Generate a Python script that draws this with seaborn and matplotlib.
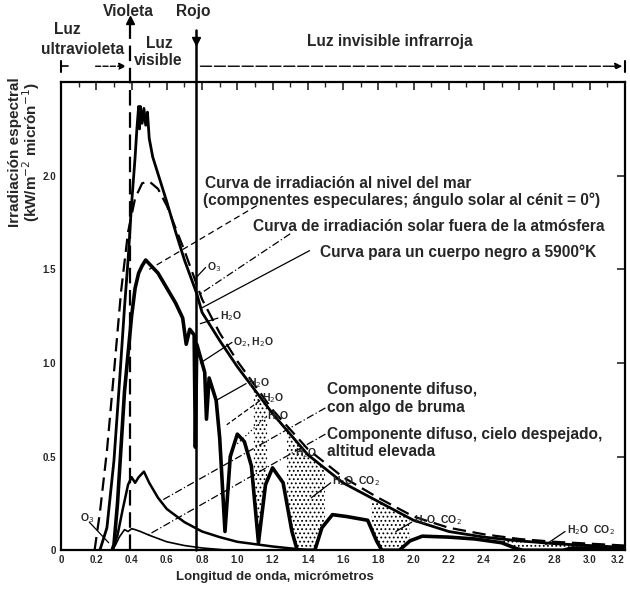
import numpy as np
import pandas as pd
import matplotlib
matplotlib.use('Agg')
import matplotlib.pyplot as plt
import seaborn as sns

sns.set_style('white')
plt.rcParams['font.family'] = ['Liberation Sans', 'DejaVu Sans']
plt.rcParams['hatch.linewidth'] = 0.8

# --- curves (wavelength in um, irradiance in kW/m2 um) ---
et_wl = [0.22, 0.26, 0.30, 0.33, 0.36, 0.38, 0.40, 0.42, 0.43, 0.44, 0.445, 0.45, 0.46, 0.47,
         0.48, 0.49, 0.50, 0.52, 0.56, 0.60, 0.65, 0.70, 0.77, 0.80, 0.90, 1.00, 1.20, 1.40,
         1.60, 1.80, 2.00, 2.20, 2.40, 2.60, 2.80, 3.00, 3.20]
et_irr = [0.0, 0.12, 0.48, 0.88, 1.30, 1.55, 1.85, 2.10, 2.25, 2.37, 2.25, 2.37, 2.28, 2.36,
          2.27, 2.34, 2.20, 2.10, 1.98, 1.86, 1.70, 1.55, 1.37, 1.27, 1.12, 0.98, 0.73, 0.51,
          0.36, 0.26, 0.16, 0.10, 0.07, 0.05, 0.035, 0.025, 0.015]

bb_wl = [0.19, 0.22, 0.26, 0.30, 0.34, 0.38, 0.42, 0.46, 0.50, 0.55, 0.60, 0.70, 0.80, 0.90,
         1.00, 1.20, 1.40, 1.60, 1.80, 2.00, 2.20, 2.40, 2.60, 2.80, 3.00, 3.20]
bb_irr = [0.0, 0.20, 0.53, 0.95, 1.38, 1.70, 1.88, 1.96, 1.97, 1.93, 1.84, 1.60, 1.34, 1.16,
          1.01, 0.75, 0.54, 0.39, 0.28, 0.18, 0.12, 0.085, 0.06, 0.045, 0.035, 0.025]

sl_wl = [0.29, 0.30, 0.32, 0.34, 0.36, 0.38, 0.40, 0.42, 0.44, 0.46, 0.48, 0.50, 0.55, 0.60,
         0.65, 0.69, 0.71, 0.73, 0.755, 0.762, 0.77, 0.80, 0.815, 0.825, 0.84, 0.88, 0.90,
         0.93, 0.96, 1.00, 1.04, 1.08, 1.12, 1.16, 1.20, 1.26, 1.31, 1.34, 1.44, 1.48, 1.54,
         1.62, 1.74, 1.79, 1.82, 1.92, 1.98, 2.05, 2.20, 2.35, 2.50, 2.58, 2.62, 2.85, 2.90, 3.20]
sl_irr = [0.0, 0.03, 0.25, 0.55, 0.85, 1.05, 1.25, 1.40, 1.48, 1.52, 1.55, 1.53, 1.48, 1.40,
          1.32, 1.24, 1.10, 1.18, 1.15, 0.55, 1.10, 1.00, 0.95, 0.70, 0.92, 0.80, 0.60,
          0.10, 0.50, 0.62, 0.58, 0.45, 0.04, 0.35, 0.44, 0.36, 0.10, 0.0, 0.0, 0.12, 0.19,
          0.18, 0.16, 0.05, 0.0, 0.0, 0.05, 0.075, 0.07, 0.06, 0.04, 0.01, 0.0, 0.0, 0.012, 0.012]

haze_wl = [0.29, 0.32, 0.35, 0.38, 0.40, 0.42, 0.44, 0.47, 0.50, 0.55, 0.60, 0.70, 0.80,
           0.90, 1.00, 1.20, 1.40]
haze_irr = [0.0, 0.08, 0.22, 0.35, 0.39, 0.36, 0.39, 0.42, 0.36, 0.28, 0.22, 0.15, 0.10,
            0.07, 0.045, 0.02, 0.0]

clear_wl = [0.29, 0.31, 0.33, 0.36, 0.38, 0.40, 0.42, 0.45, 0.50, 0.60, 0.70, 0.80, 0.95]
clear_irr = [0.0, 0.03, 0.07, 0.11, 0.10, 0.115, 0.11, 0.10, 0.08, 0.045, 0.025, 0.012, 0.0]

xtick_vals = [0, 0.2, 0.4, 0.6, 0.8, 1.0, 1.2, 1.4, 1.6, 1.8, 2.0, 2.2, 2.4, 2.6, 2.8, 3.0, 3.2]
ytick_vals = [0, 0.5, 1.0, 1.5, 2.0]
violet_wl = 0.39
red_wl = 0.765

fig = plt.figure(figsize=(6.3, 5.91), dpi=100)
ax = fig.add_axes([0.097, 0.069, 0.895, 0.792])

# stippled absorption bands between outer curve and sea level curve
grid = np.linspace(0, 3.2, 800)
et_i = np.interp(grid, et_wl, et_irr)
sl_i = np.interp(grid, sl_wl, sl_irr, left=0, right=0)
bands = (((grid > 1.09) & (grid < 1.17)) | ((grid > 1.28) & (grid < 1.50))
         | ((grid > 1.76) & (grid < 1.98)) | (grid > 2.45))
ax.fill_between(grid, sl_i, et_i, where=bands, facecolor='none', edgecolor='black',
                hatch='....', linewidth=0)

kw = dict(ax=ax, color='black', sort=False, estimator=None, legend=False)
sns.lineplot(x=bb_wl, y=bb_irr, linewidth=1.6, linestyle=(0, (6, 3)), **kw)
sns.lineplot(x=et_wl, y=et_irr, linewidth=2.0, **kw)
sns.lineplot(x=sl_wl, y=sl_irr, linewidth=2.6, **kw)
sns.lineplot(x=haze_wl, y=haze_irr, linewidth=1.8, **kw)
sns.lineplot(x=clear_wl, y=clear_irr, linewidth=1.2, **kw)

# violet / red limits
ax.plot([violet_wl, violet_wl], [0, 2.83], color='black', lw=1.6, ls=(0, (7, 3)), clip_on=False)
ax.plot([violet_wl], [2.83], marker='^', color='black', ms=6, clip_on=False)
ax.plot([red_wl, red_wl], [0, 2.78], color='black', lw=1.8, clip_on=False)
ax.plot([red_wl], [2.72], marker='v', color='black', ms=6, clip_on=False)

# region arrows above the frame
yb = 2.585
ax.plot([0, 0.04], [yb, yb], color='black', lw=1.2, clip_on=False)
ax.plot([0, 0], [yb - 0.03, yb + 0.03], color='black', lw=1.5, clip_on=False)
ax.annotate('', xy=(violet_wl - 0.005, yb), xytext=(0.18, yb), annotation_clip=False,
            arrowprops=dict(arrowstyle='-|>', color='black', lw=1.0, ls='--'))
ax.annotate('', xy=(3.2, yb), xytext=(red_wl + 0.01, yb), annotation_clip=False,
            arrowprops=dict(arrowstyle='-|>', color='black', lw=1.0, ls=(0, (8, 2))))
ax.plot([3.2, 3.2], [yb - 0.03, yb + 0.03], color='black', lw=1.5, clip_on=False)

fs = 11.2
tkw = dict(fontsize=fs, fontweight='bold', clip_on=False)
ax.text(0.034, 2.78, 'Luz', ha='center', va='center', **tkw)
ax.text(0.119, 2.677, 'ultravioleta', ha='center', va='center', **tkw)
ax.text(0.38, 2.876, 'Violeta', ha='center', va='center', **tkw)
ax.text(0.75, 2.876, 'Rojo', ha='center', va='center', **tkw)
ax.text(0.56, 2.704, 'Luz', ha='center', va='center', **tkw)
ax.text(0.55, 2.613, 'visible', ha='center', va='center', **tkw)
ax.text(1.396, 2.715, 'Luz invisible infrarroja', ha='left', va='center', **tkw)

ax.text(0.817, 1.96, 'Curva de irradiación al nivel del mar', va='center', **tkw)
ax.text(0.806, 1.87, '(componentes especulares; ángulo solar al cénit = 0°)', va='center', **tkw)
ax.text(1.09, 1.73, 'Curva de irradiación solar fuera de la atmósfera', va='center', **tkw)
ax.text(1.47, 1.59, 'Curva para un cuerpo negro a 5900°K', va='center', **tkw)
ax.text(1.51, 0.86, 'Componente difuso,', va='center', **tkw)
ax.text(1.51, 0.76, 'con algo de bruma', va='center', **tkw)
ax.text(1.51, 0.62, 'Componente difuso, cielo despejado,', va='center', **tkw)
ax.text(1.51, 0.525, 'altitud elevada', va='center', **tkw)

skw = dict(fontsize=7.5, fontweight='bold', va='center')
for x, y, s in [(0.83, 1.51, 'O$_3$'), (0.90, 1.25, 'H$_2$O'), (0.976, 1.11, 'O$_2$, H$_2$O'),
                (1.06, 0.89, 'H$_2$O'), (1.14, 0.81, 'H$_2$O'), (1.17, 0.715, 'H$_2$O'),
                (1.33, 0.52, 'H$_2$O'), (1.54, 0.37, 'H$_2$O  CO$_2$'),
                (2.00, 0.16, 'H$_2$O  CO$_2$'), (2.87, 0.11, 'H$_2$O  CO$_2$'),
                (0.11, 0.17, 'O$_3$')]:
    ax.text(x, y, s, **skw)

# leader lines
leaders = [((1.11, 1.84), (0.50, 1.50), (0, (5, 3))),
           ((1.30, 1.69), (0.79, 1.37), (0, (6, 2, 1, 2))),
           ((1.41, 1.60), (0.79, 1.29), '-'),
           ((0.82, 1.51), (0.77, 1.46), '-'),
           ((0.89, 1.24), (0.79, 1.21), '-'),
           ((0.97, 1.11), (0.79, 1.00), '-'),
           ((1.05, 0.89), (0.88, 0.80), '-'),
           ((1.13, 0.80), (0.94, 0.67), (0, (4, 2))),
           ((1.16, 0.71), (0.99, 0.56), (0, (1, 2))),
           ((1.50, 0.76), (0.56, 0.26), (0, (6, 2, 1, 2))),
           ((1.50, 0.62), (0.49, 0.08), (0, (6, 2, 1, 2))),
           ((1.53, 0.36), (1.42, 0.28), '-'),
           ((1.99, 0.15), (1.90, 0.10), '-'),
           ((2.86, 0.10), (2.75, 0.03), '-'),
           ((0.16, 0.15), (0.27, 0.04), '-')]
for (x0, y0), (x1, y1), ls in leaders:
    ax.plot([x0, x1], [y0, y1], color='black', lw=0.9, ls=ls)

ax.set_xlim(0, 3.2)
ax.set_ylim(0, 2.5)
ax.set_xticks(xtick_vals)
ax.set_xticklabels(['0' if v == 0 else f'{v:.1f}' for v in xtick_vals], fontsize=7, fontweight='bold')
ax.get_xticklabels()[-1].set_ha('right')
ax.set_xticks(np.arange(0.1, 3.2, 0.2), minor=True)
ax.set_yticks(ytick_vals)
ax.set_yticklabels(['0' if v == 0 else f'{v:.1f}' for v in ytick_vals], fontsize=7, fontweight='bold')
ax.set_yticks(np.arange(0.1, 2.5, 0.1), minor=True)
ax.tick_params(axis='both', which='major', direction='in', length=6, width=1.2, top=True, right=True)
ax.tick_params(axis='both', which='minor', direction='in', length=3.5, width=1.0, top=True)
for sp in ax.spines.values():
    sp.set_linewidth(1.6)
    sp.set_color('black')

fig.text(0.024, 0.743, 'Irradiación espectral', rotation=90, ha='center', va='center',
         fontsize=11, fontweight='bold')
fig.text(0.05, 0.743, '(kW/m$^{-2}$ micrón$^{-1}$)', rotation=90, ha='center', va='center',
         fontsize=11, fontweight='bold')
fig.text(0.437, 0.024, 'Longitud de onda, micrómetros', ha='center', va='center',
         fontsize=9.5, fontweight='bold')

fig.savefig('out.png', dpi=100)
